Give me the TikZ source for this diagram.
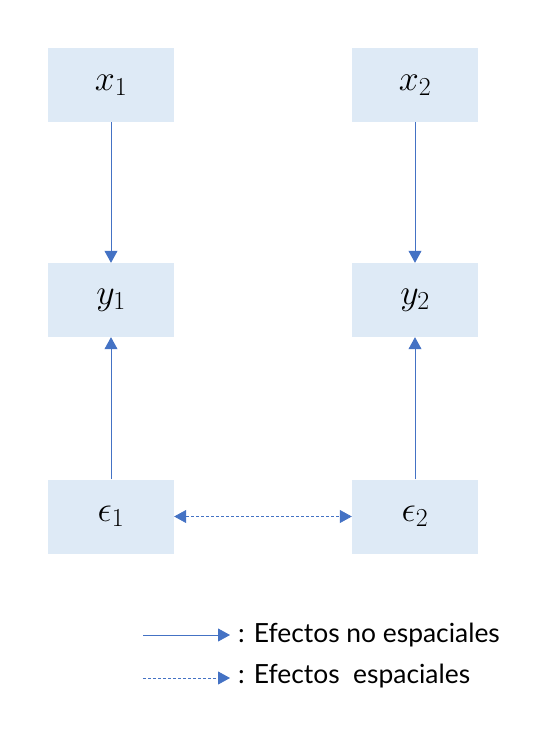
\documentclass[tikz,border=0pt]{standalone}
\usepackage{fix-cm}
\usepackage{fontspec}
\newfontfamily\legendfont{Lato}
\DeclareMathSizes{36}{36}{26}{20}
\usetikzlibrary{arrows.meta}
\definecolor{boxblue}{HTML}{DEEAF6}
\definecolor{arrowblue}{HTML}{4472C4}

\begin{document}
\begin{tikzpicture}[
		x=1bp, y=-1bp,
		var/.style={rectangle,fill=boxblue,minimum width=126bp,minimum height=74bp,inner sep=0pt,font=\fontsize{36}{40}\selectfont},
		eff/.style={arrowblue,line width=0.8bp,-{Triangle[width=13bp,length=12bp]}},
		spat/.style={arrowblue,line width=0.8bp,dash pattern=on 3bp off 2bp},
		legtxt/.style={anchor=base west,inner sep=0pt,font=\legendfont\fontsize{26.5}{30}\selectfont}]
	\useasboundingbox (0,0) rectangle (550,734);
	%% define variables
	\node (x1) at (111,85) [var] {$x_1$};
	\node (x2) at (415,85) [var] {$x_2$};
	\node (y1) at (111,300) [var] {$y_1$};
	\node (y2) at (415,300) [var] {$y_2$};
	\node (e1) at (111,516.5) [var] {$\epsilon_1$};
	\node (e2) at (415,516.5) [var] {$\epsilon_2$};
	%% define effects
	\draw[eff] (x1) -- (y1);
	\draw[eff] (x2) -- (y2);
	\draw[eff] (e1) -- (y1);
	\draw[eff] (e2) -- (y2);
	\draw[spat,{Triangle[width=13bp,length=12bp]}-{Triangle[width=13bp,length=12bp]}] (e1) -- (e2);
	%% define legend
	\coordinate (l1a) at (143,635);
	\coordinate (l1b) at (230,635);
	\coordinate (l2a) at (143,678);
	\coordinate (l2b) at (230,678);
	\node (t1) at (238,642) [legtxt] {: Efectos no espaciales};
	\node (t2) at (238,683) [legtxt] {: Efectos\ \ espaciales};
	\draw[eff] (l1a) -- (l1b);
	\draw[spat,-{Triangle[width=13bp,length=12bp]}] (l2a) -- (l2b);
\end{tikzpicture}
\end{document}
